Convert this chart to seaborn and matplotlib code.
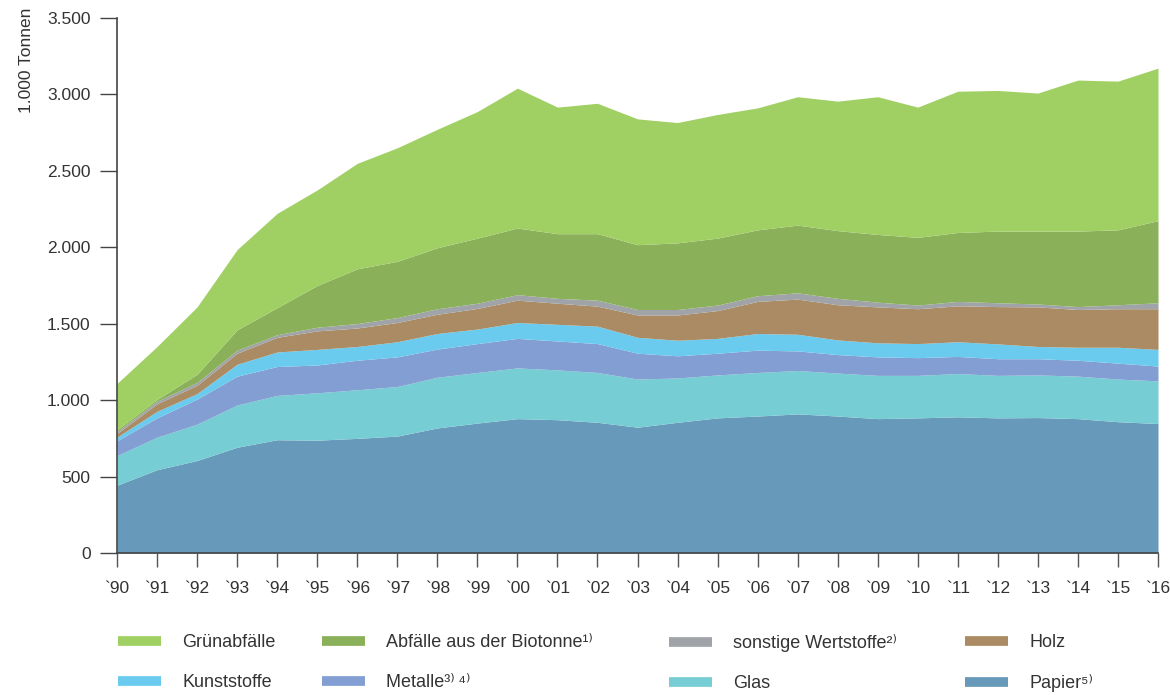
import matplotlib
matplotlib.use("Agg")
import matplotlib.pyplot as plt
from matplotlib import font_manager
from matplotlib.ticker import FuncFormatter
import seaborn as sns
import numpy as np

years = list(range(1990, 2017))
xlabels = ["`" + str(y)[-2:] for y in years]

papier = [443, 545, 605, 692, 741, 738, 750, 765, 818, 850, 879, 872, 855, 823, 855, 884,
          896, 910, 896, 879, 884, 891, 884, 886, 879, 859, 847]
glas = [194, 213, 238, 276, 290, 310, 318, 324, 332, 331, 332, 326, 326, 315, 290, 281,
        285, 284, 281, 283, 278, 283, 278, 279, 278, 279, 279]
metalle = [97, 126, 164, 189, 189, 182, 193, 194, 184, 189, 193, 189, 189, 169, 145, 142,
           146, 128, 121, 121, 116, 112, 109, 106, 104, 104, 97]
kunststoffe = [24, 43, 36, 78, 95, 102, 90, 99, 102, 95, 104, 109, 114, 104, 102, 97,
               109, 109, 96, 92, 92, 96, 97, 80, 85, 104, 109]
holz = [24, 49, 54, 72, 96, 121, 121, 126, 126, 135, 146, 138, 131, 146, 165, 182,
        210, 230, 230, 235, 228, 235, 244, 259, 247, 252, 266]
sonstige = [12, 17, 19, 20, 17, 24, 29, 32, 36, 34, 36, 32, 39, 36, 36, 36,
            37, 41, 42, 31, 24, 29, 25, 19, 19, 26, 39]
biotonne = [12, 12, 53, 133, 177, 273, 358, 368, 399, 426, 436, 423, 435, 424, 436, 438,
            431, 443, 443, 443, 443, 451, 469, 477, 494, 490, 537]
gruen = [303, 346, 441, 525, 617, 625, 690, 743, 775, 828, 915, 828, 853, 823, 787, 809,
         798, 840, 847, 901, 852, 924, 920, 903, 988, 973, 998]

names = ["Papier⁵⁾", "Glas", "Metalle³⁾\u2009⁴⁾", "Kunststoffe", "Holz",
         "sonstige Wertstoffe²⁾", "Abfälle aus der Biotonne¹⁾", "Grünabfälle"]
colors = ["#6699BA", "#76CDD3", "#829ED2", "#6ACBEF", "#AA8B63", "#A0A4A8", "#8BB05A", "#A0D063"]

sns.set_theme(style="white")
avail = {f.name for f in font_manager.fontManager.ttflist}
main_font = "Liberation Sans Narrow" if "Liberation Sans Narrow" in avail else "Liberation Sans"
plt.rcParams["font.family"] = [main_font, "DejaVu Sans"]

fig = plt.figure(figsize=(11.7, 6.95), dpi=100)
ax = fig.add_axes([117 / 1170, 1 - 553 / 695, (1158 - 117) / 1170, (553 - 18) / 695])

series = [papier, glas, metalle, kunststoffe, holz, sonstige, biotonne, gruen]
ax.stackplot(years, *series, colors=colors, labels=names, linewidth=0)

ax.set_xlim(1990, 2016)
ax.set_ylim(0, 3500)
ax.set_xticks(years)
ax.set_xticklabels(xlabels)
ax.set_yticks(np.arange(0, 3501, 500))
ax.yaxis.set_major_formatter(FuncFormatter(lambda v, p: f"{int(v):,}".replace(",", ".")))

txtc = "#333333"
for s in ["top", "right"]:
    ax.spines[s].set_visible(False)
for s in ["left", "bottom"]:
    ax.spines[s].set_color("#444444")
    ax.spines[s].set_linewidth(1.2)
ax.tick_params(axis="y", direction="out", length=12, width=1.0, color="#444444",
               labelsize=12.5, labelcolor=txtc, pad=7, left=True)
ax.tick_params(axis="x", direction="out", length=10, width=1.0, color="#555555",
               labelsize=12.5, labelcolor=txtc, pad=10, bottom=True)

fig.text(27 / 1170, 1 - 8 / 695, "1.000 Tonnen", rotation=90, ha="center", va="top",
         fontsize=12.5, color=txtc)

# legend: four columns placed at the reference positions
columns = [(7, 3), (6, 2), (5, 1), (4, 0)]
col_x = [118, 322, 669, 965]
for (a, b), x0 in zip(columns, col_x):
    hs = [plt.Line2D([0], [0], color=colors[i], lw=7, solid_capstyle="butt") for i in (a, b)]
    lg = fig.legend(hs, [names[a], names[b]], loc="upper left",
                    bbox_to_anchor=(x0 / 1170, 1 - 634 / 695), ncol=1, frameon=False,
                    fontsize=13, handlelength=2.4, handletextpad=1.15, labelspacing=1.27,
                    labelcolor=txtc, borderaxespad=0, borderpad=0)

fig.savefig("out.png", dpi=100)
